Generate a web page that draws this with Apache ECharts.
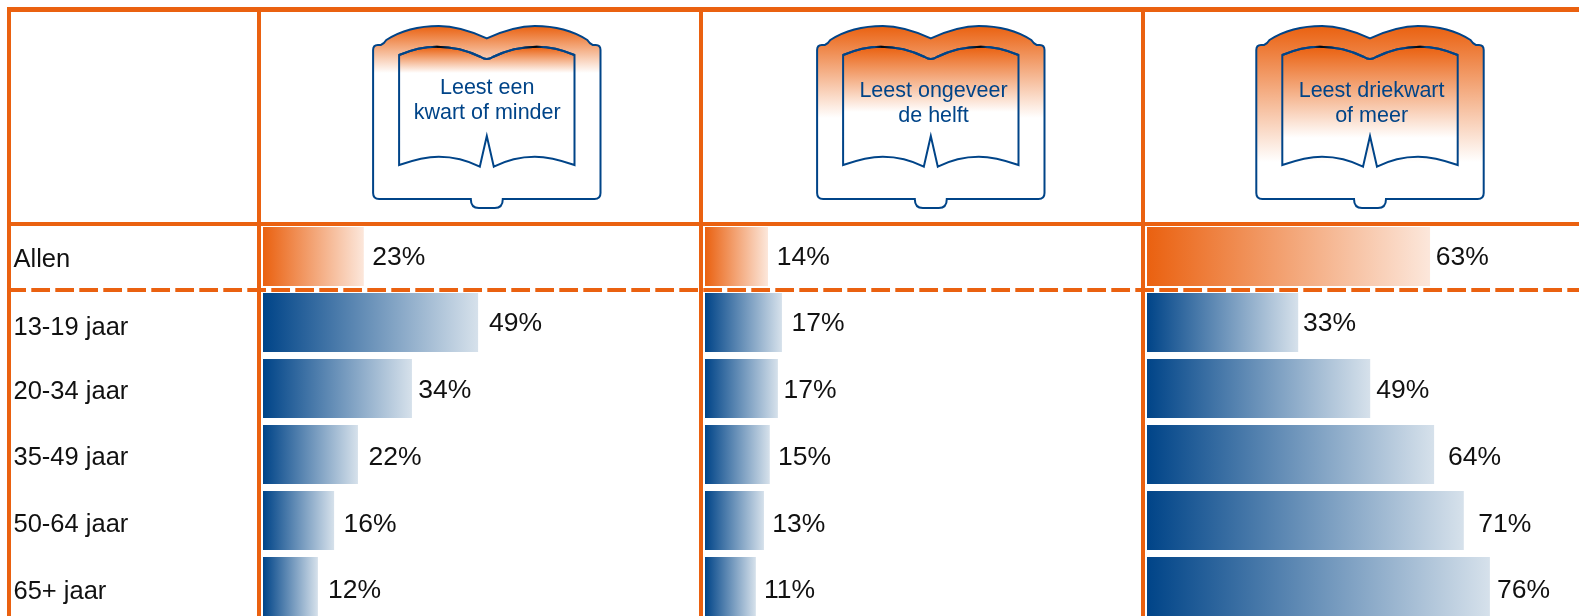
<!DOCTYPE html>
<html>
<head>
<meta charset="utf-8">
<style>html,body{margin:0;padding:0;background:#fff}#c{width:1579px;height:616px}</style>
<script src="https://cdn.jsdelivr.net/npm/echarts@6/dist/echarts.min.js"></script>
</head>
<body>
<div id="c"></div>
<script>
// Data
const rows = ['Allen', '13-19 jaar', '20-34 jaar', '35-49 jaar', '50-64 jaar', '65+ jaar'];
const headers = ['Leest een\nkwart of minder', 'Leest ongeveer\nde helft', 'Leest driekwart\nof meer'];
const quarterShown = [23, 49, 34, 22, 16, 12];
const halfShown = [14, 17, 17, 15, 13, 11];
const threeQuarterShown = [63, 33, 49, 64, 71, 76];
// Bar lengths (the original bars do not follow the printed % exactly)
const quarterBars = [22.4, 47.8, 33.1, 21.1, 15.8, 12.2];
const halfBars = [14, 17.1, 16.2, 14.4, 13.1, 11.3];
const threeQuarterBars = [62.9, 33.6, 49.6, 63.8, 70.4, 76.2];

// Layout
const ORANGE = '#EA6110', BLUE = '#004488', FONT = '"Liberation Sans", Arial, sans-serif';
const panels = [
  {left: 263, cx: 486.8, tx: 487.2, ty: 100.7, outerEnd: 73, innerEnd: 73, bars: quarterBars, shown: quarterShown, gaps: [8.5, 11, 6.3, 10.5, 9.5, 10.2]},
  {left: 705, cx: 930.8, tx: 933.5, ty: 104, outerEnd: 118, innerEnd: 112, bars: halfBars, shown: halfShown, gaps: [8.8, 9.5, 5.5, 8.2, 8.2, 8.2]},
  {left: 1147, cx: 1370, tx: 1371.6, ty: 104, outerEnd: 162, innerEnd: 138, bars: threeQuarterBars, shown: threeQuarterShown, gaps: [5.7, 4.7, 6, 14, 14.5, 7]}
];
const labelDy = [1, 1.2, 2.4, 3, 4.5, 4.5];
const rowLabelPad = [6, 10, 6, 6, 8, 10];

function outerSide(ctx, cx, s) {
  const X = d => cx + s * d;
  ctx.bezierCurveTo(X(14), 32, X(30), 26, X(48), 26);
  ctx.bezierCurveTo(X(68), 26, X(85), 30, X(100.5), 40);
  ctx.quadraticCurveTo(X(103), 44, X(106), 45);
  ctx.lineTo(X(109), 45);
  ctx.quadraticCurveTo(X(113.7), 45, X(113.7), 50);
  ctx.lineTo(X(113.7), 193);
  ctx.quadraticCurveTo(X(113.7), 199, X(107.7), 199);
  ctx.lineTo(X(16), 199);
  ctx.quadraticCurveTo(X(16), 208, X(8), 208);
  ctx.lineTo(cx, 208);
}
echarts.graphic.registerShape('bookOuter', echarts.graphic.extendShape({
  shape: {cx: 0},
  buildPath(ctx, sh) {
    const cx = sh.cx, X = d => cx + d;
    ctx.moveTo(cx, 38.3);
    outerSide(ctx, cx, 1);
    ctx.lineTo(X(-8), 208);
    ctx.quadraticCurveTo(X(-16), 208, X(-16), 199);
    ctx.lineTo(X(-107.7), 199);
    ctx.quadraticCurveTo(X(-113.7), 199, X(-113.7), 193);
    ctx.lineTo(X(-113.7), 50);
    ctx.quadraticCurveTo(X(-113.7), 45, X(-109), 45);
    ctx.lineTo(X(-106), 45);
    ctx.quadraticCurveTo(X(-103), 44, X(-100.5), 40);
    ctx.bezierCurveTo(X(-85), 30, X(-68), 26, X(-48), 26);
    ctx.bezierCurveTo(X(-30), 26, X(-14), 32, cx, 38.3);
    ctx.closePath();
  }
}));
function innerTop(ctx, cx) {
  const X = d => cx + d;
  ctx.moveTo(X(-87.7), 55);
  ctx.bezierCurveTo(X(-75), 49.5, X(-62), 46.7, X(-50), 46.7);
  ctx.bezierCurveTo(X(-32), 46.7, X(-18), 51, X(-6), 57);
  ctx.quadraticCurveTo(cx, 61, X(6), 57);
  ctx.bezierCurveTo(X(18), 51, X(32), 46.7, X(50), 46.7);
  ctx.bezierCurveTo(X(62), 46.7, X(75), 49.5, X(87.7), 55);
}
echarts.graphic.registerShape('bookInner', echarts.graphic.extendShape({
  shape: {cx: 0},
  buildPath(ctx, sh) {
    const cx = sh.cx, X = d => cx + d;
    innerTop(ctx, cx);
    ctx.lineTo(X(87.7), 165);
    ctx.bezierCurveTo(X(72), 159.5, X(60), 156.7, X(48), 156.7);
    ctx.bezierCurveTo(X(32), 156.7, X(18), 161, X(7), 166.7);
    ctx.lineTo(cx, 136);
    ctx.lineTo(X(-7), 166.7);
    ctx.bezierCurveTo(X(-18), 161, X(-32), 156.7, X(-48), 156.7);
    ctx.bezierCurveTo(X(-60), 156.7, X(-72), 159.5, X(-87.7), 165);
    ctx.closePath();
  }
}));
echarts.graphic.registerShape('bookShine', echarts.graphic.extendShape({
  shape: {cx: 0},
  buildPath(ctx, sh) { innerTop(ctx, sh.cx); }
}));

const vGrad = (y0, y1) => ({type: 'linear', x: 0, y: y0, x2: 0, y2: y1, global: true,
  colorStops: [{offset: 0, color: ORANGE}, {offset: 1, color: '#ffffff'}]});
const hGrad = (a, b) => new echarts.graphic.LinearGradient(0, 0, 1, 0, [{offset: 0, color: a}, {offset: 1, color: b}]);

const rule = (x, y, w, h) => ({type: 'rect', z: 10, silent: true, shape: {x, y, width: w, height: h}, style: {fill: ORANGE}});
const graphic = [
  rule(7, 7, 1572, 5), rule(7, 222, 1572, 4),
  rule(7, 7, 4, 609), rule(257, 7, 4, 609), rule(699, 7, 4, 609), rule(1141, 7, 4, 609),
  {type: 'line', z: 10, silent: true, shape: {x1: 7.3, y1: 290, x2: 1579, y2: 290},
   style: {stroke: ORANGE, lineWidth: 4, lineDash: [18.7, 5.3]}}
];
panels.forEach((p, i) => {
  graphic.push(
    {type: 'bookOuter', z: 11, silent: true, shape: {cx: p.cx}, style: {fill: vGrad(26, p.outerEnd), stroke: BLUE, lineWidth: 2}},
    {type: 'bookInner', z: 12, silent: true, shape: {cx: p.cx}, style: {fill: vGrad(47, p.innerEnd), stroke: BLUE, lineWidth: 2}},
    {type: 'bookShine', z: 13, silent: true, shape: {cx: p.cx}, style: {fill: 'none', lineWidth: 2, stroke: {
      type: 'linear', x: p.cx - 88, y: 0, x2: p.cx + 88, y2: 0, global: true, colorStops: [
        {offset: 0.18, color: BLUE}, {offset: 0.22, color: '#000'}, {offset: 0.31, color: BLUE},
        {offset: 0.69, color: BLUE}, {offset: 0.78, color: '#000'}, {offset: 0.82, color: BLUE}]}}},
    {type: 'text', z: 14, silent: true, style: {x: p.tx, y: p.ty, text: headers[i], fill: BLUE,
      font: '21.5px ' + FONT, align: 'center', verticalAlign: 'middle', lineHeight: 25}}
  );
});

const rowRich = {};
rowLabelPad.forEach((pad, r) => {
  rowRich['r' + r] = {padding: [pad, 0, 0, 0], fontFamily: FONT, fontSize: 25.5, color: '#111'};
});

const GRID_TOP = 223.5, GRID_H = 396, GRID_W = 432, X_MAX = 96;
const option = {
  animation: false,
  backgroundColor: '#fff',
  grid: panels.map(p => ({left: p.left, top: GRID_TOP, width: GRID_W, height: GRID_H, containLabel: false, outerBoundsMode: 'none'})),
  xAxis: panels.map((p, i) => ({type: 'value', gridIndex: i, min: 0, max: X_MAX, show: false})),
  yAxis: panels.map((p, i) => ({
    type: 'category', gridIndex: i, inverse: true, show: i === 0, data: rows,
    axisLine: {show: false}, axisTick: {show: false},
    axisLabel: {show: i === 0, align: 'left', margin: 249.5, fontFamily: FONT, fontSize: 25.5, color: '#111',
      formatter: (value, index) => '{r' + index + '|' + value + '}', rich: rowRich}
  })),
  series: panels.map((p, i) => ({
    type: 'bar', xAxisIndex: i, yAxisIndex: i, barWidth: 59, clip: false, silent: true,
    data: p.bars.map((v, r) => ({
      value: v,
      itemStyle: {color: r === 0 ? hGrad(ORANGE, '#FCE7DB') : hGrad(BLUE, '#D6E1EB')},
      label: {show: true, position: 'right', distance: p.gaps[r], offset: [0, labelDy[r]],
        formatter: p.shown[r] + '%', fontFamily: FONT, fontSize: 26.5, color: '#111'}
    }))
  })),
  graphic
};
const chart = echarts.init(document.getElementById('c'), null, {renderer: 'canvas'});
chart.setOption(option);
</script>
</body>
</html>
